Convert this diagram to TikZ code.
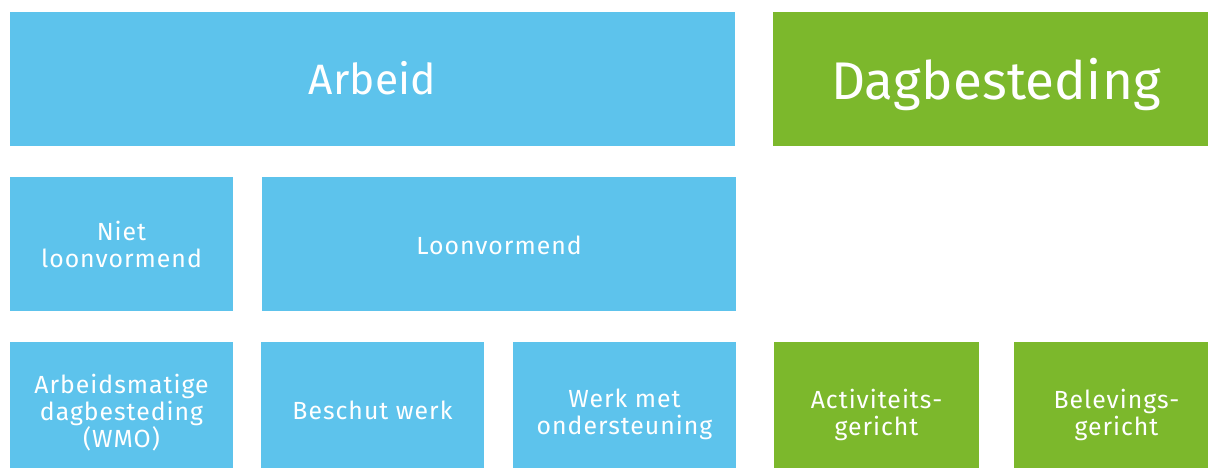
\documentclass[tikz,border=0pt]{standalone}
\usepackage{fontspec}
\setmainfont{Fira Sans}[LetterSpace=4]
\newfontfamily\tightfont{Fira Sans}[LetterSpace=0.5]
\definecolor{arbblue}{HTML}{5DC3EC}
\definecolor{daggreen}{HTML}{7CB82C}
\begin{document}
\begin{tikzpicture}[x=1pt,y=-1pt,
  box/.style={anchor=north west,inner sep=0pt,outer sep=0pt,minimum height=134pt},
  blue/.style={box,fill=arbblue},
  green/.style={box,fill=daggreen},
  txt/.style={inner sep=0pt,text=white,align=center},
  big/.style={txt,anchor=base,font=\tightfont\fontsize{42.5}{50}\selectfont},
  huge/.style={txt,anchor=base,font=\tightfont\fontsize{53}{60}\selectfont},
  small/.style={txt,font=\fontsize{24.8}{27}\selectfont}]
\path[use as bounding box,clip] (0,0) rectangle (1208,468);
% row 1
\node[blue,minimum width=725pt] (arbeid) at (10,12) {};
\node[green,minimum width=446pt] (dag) at (773,12) {};
\node[big] (arbeidT) at (372.5,95) {Arbeid};
\node[huge] (dagT) at (996,99.5) {Dagbesteding};
% row 2
\node[blue,minimum width=223pt] (niet) at (10,177) {};
\node[blue,minimum width=474pt] (loon) at (262,177) {};
\node[small] (nietT) at ([yshift=-0.5pt]niet.center) {Niet\\loonvormend};
\node[small] (loonT) at ([yshift=-1pt]loon.center) {Loonvormend};
% row 3
\node[blue,minimum width=223pt] (wmo) at (10,342) {};
\node[blue,minimum width=223pt] (beschut) at (261,342) {};
\node[blue,minimum width=223pt] (werk) at (513,342) {};
\node[green,minimum width=205pt] (act) at (774,342) {};
\node[green,minimum width=205pt] (bel) at (1014,342) {};
\node[small] (wmoT) at ([yshift=-4pt]wmo.center) {Arbeidsmatige\\dagbesteding\\(WMO)};
\node[small] (beschutT) at ([yshift=-1pt]beschut.center) {Beschut werk};
\node[small] (werkT) at ([yshift=-5.5pt]werk.center) {Werk met\\ondersteuning};
\node[small] (actT) at ([yshift=-5.5pt]act.center) {Activiteits-\\gericht};
\node[small] (belT) at ([yshift=-5.5pt]bel.center) {Belevings-\\gericht};
\end{tikzpicture}
\end{document}
